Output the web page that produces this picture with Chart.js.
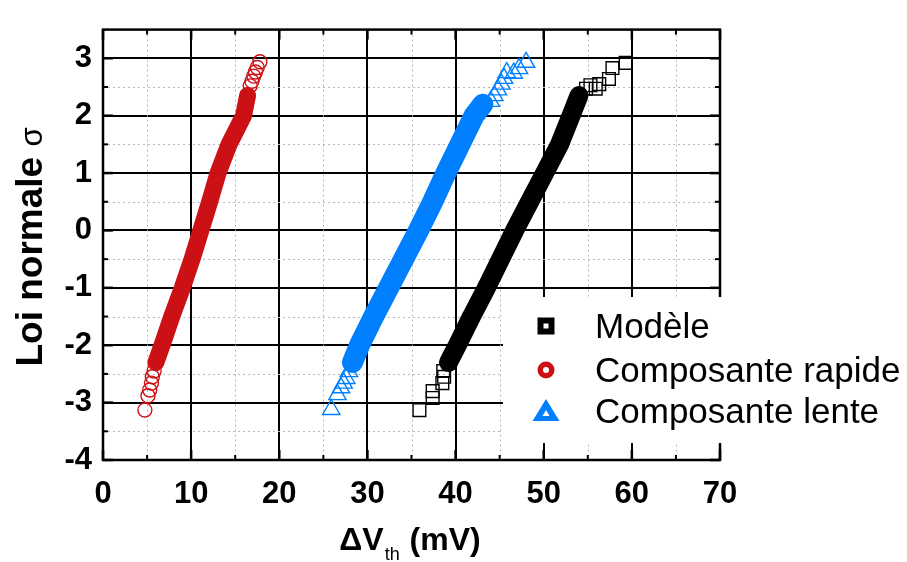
<!DOCTYPE html>
<html>
<head>
<meta charset="utf-8">
<script src="https://cdn.jsdelivr.net/npm/chart.js@4.4.0/dist/chart.umd.min.js"></script>
<style>
  html, body { margin: 0; padding: 0; background: #fff; }
  #wrap { width: 907px; height: 562px; }
</style>
</head>
<body>
<div id="wrap"><canvas id="qqChart" width="907" height="562"></canvas></div>
<script>
// Axis ticks
const xTicks = [0, 10, 20, 30, 40, 50, 60, 70];
const yTicks = [-4, -3, -2, -1, 0, 1, 2, 3];
const xMinor = [5, 15, 25, 35, 45, 55, 65];
const yMinor = [-3.5, -2.5, -1.5, -0.5, 0.5, 1.5, 2.5];

const seriesNames = ["Modèle", "Composante rapide", "Composante lente"];

// Dense middle part of each distribution (deltaVth in mV vs sigma)
const modeleBandX = [39.2, 40.2, 41.8, 43.5, 45.1, 46.7, 48.4, 50.1, 51.8, 53.1, 54.0];
const modeleBandY = [-2.3, -2.0, -1.5, -1.0, -0.5, 0, 0.5, 1.0, 1.5, 2.0, 2.35];
const rapideBandX = [6.0, 6.7, 7.8, 9.0, 10.1, 11.1, 12.1, 13.05, 14.3, 15.95, 16.4];
const rapideBandY = [-2.3, -2.0, -1.5, -1.0, -0.5, 0, 0.5, 1.0, 1.5, 2.0, 2.35];
const lenteBandX = [28.3, 29.1, 30.7, 32.4, 34.1, 35.8, 37.4, 38.9, 40.5, 42.1, 43.1];
const lenteBandY = [-2.3, -2.0, -1.5, -1.0, -0.5, 0, 0.5, 1.0, 1.5, 2.0, 2.2];

// Sparse tails where single markers are visible
const modeleTailX = [35.9, 37.4, 37.4, 38.5, 38.7, 38.6, 54.8, 55.3, 55.9, 56.3, 57.4, 57.8, 59.3];
const modeleTailY = [-3.13, -2.92, -2.8, -2.66, -2.55, -2.45, 2.47, 2.53, 2.47, 2.55, 2.64, 2.83, 2.92];
const rapideTailX = [4.75, 5.1, 5.3, 5.5, 5.6, 5.8, 16.7, 16.9, 17.1, 17.3, 17.5, 17.8];
const rapideTailY = [-3.13, -2.88, -2.78, -2.66, -2.55, -2.45, 2.52, 2.6, 2.69, 2.76, 2.84, 2.94];
const lenteTailX = [25.9, 26.6, 27.0, 27.3, 27.6, 27.9, 44.0, 44.4, 44.8, 45.2, 45.5, 45.8, 46.6, 47.2, 48.0];
const lenteTailY = [-3.12, -2.86, -2.74, -2.66, -2.58, -2.46, 2.25, 2.35, 2.45, 2.55, 2.65, 2.75, 2.74, 2.82, 2.93];

const BLACK = "#000000";
const RED = "#cc1116";
const BLUE = "#0080ff";
const FONT = "'Liberation Sans', Arial, sans-serif";

function pts(xs, ys) {
  return xs.map((x, i) => ({ x: x, y: ys[i] }));
}

function band(xs, ys, color, width) {
  return {
    data: pts(xs, ys),
    showLine: true,
    borderColor: color,
    borderWidth: width,
    borderCapStyle: "round",
    borderJoinStyle: "round",
    pointRadius: 0,
    fill: false
  };
}

function tail(label, xs, ys, color, style, radius) {
  return {
    label: label,
    data: pts(xs, ys),
    showLine: false,
    pointStyle: style,
    pointRadius: radius,
    pointBorderColor: color,
    pointBackgroundColor: "rgba(0,0,0,0)",
    pointBorderWidth: 1.4
  };
}

// Frame, minor grid, ticks, axis titles and the boxed legend
const decorations = {
  id: "decorations",
  beforeDatasetsDraw(chart) {
    const { ctx, chartArea: a, scales: { x, y } } = chart;
    ctx.save();
    ctx.strokeStyle = "#b8b8b8";
    ctx.lineWidth = 1;
    ctx.setLineDash([2, 3]);
    xMinor.forEach((v) => {
      const px = Math.round(x.getPixelForValue(v)) + 0.5;
      ctx.beginPath();
      ctx.moveTo(px, a.top);
      ctx.lineTo(px, a.bottom);
      ctx.stroke();
    });
    yMinor.forEach((v) => {
      const py = Math.round(y.getPixelForValue(v)) + 0.5;
      ctx.beginPath();
      ctx.moveTo(a.left, py);
      ctx.lineTo(a.right, py);
      ctx.stroke();
    });
    ctx.restore();
  },
  afterDatasetsDraw(chart) {
    const { ctx, chartArea: a, scales: { x, y } } = chart;
    ctx.save();
    ctx.strokeStyle = BLACK;
    ctx.lineWidth = 2.5;
    ctx.strokeRect(a.left, a.top, a.right - a.left, a.bottom - a.top);

    function tick(x1, y1, x2, y2) {
      ctx.beginPath();
      ctx.moveTo(x1, y1);
      ctx.lineTo(x2, y2);
      ctx.stroke();
    }
    ctx.lineWidth = 2.5;
    yTicks.forEach((v) => {
      const py = y.getPixelForValue(v);
      tick(a.left, py, a.left + 10, py);
      tick(a.right, py, a.right - 10, py);
    });
    xTicks.forEach((v) => {
      const px = x.getPixelForValue(v);
      tick(px, a.bottom, px, a.bottom - 10);
      tick(px, a.top, px, a.top + 10);
    });
    ctx.lineWidth = 2;
    yMinor.forEach((v) => {
      const py = y.getPixelForValue(v);
      tick(a.left, py, a.left + 5, py);
      tick(a.right, py, a.right - 5, py);
    });
    xMinor.forEach((v) => {
      const px = x.getPixelForValue(v);
      tick(px, a.bottom, px, a.bottom - 5);
      tick(px, a.top, px, a.top + 5);
    });
    ctx.restore();
  },
  afterDraw(chart) {
    const { ctx } = chart;
    ctx.save();

    // legend box sits on top of the plot
    ctx.fillStyle = "#fff";
    ctx.fillRect(503, 297, 404, 146);

    // black square
    ctx.fillStyle = BLACK;
    ctx.fillRect(537.5, 317.5, 17, 17);
    ctx.fillStyle = "#fff";
    ctx.fillRect(543.5, 323.5, 5, 5);
    // red ring
    ctx.fillStyle = RED;
    ctx.beginPath();
    ctx.arc(546, 370, 8.5, 0, Math.PI * 2);
    ctx.fill();
    ctx.fillStyle = "#fff";
    ctx.beginPath();
    ctx.arc(546, 370, 3, 0, Math.PI * 2);
    ctx.fill();
    // blue triangle
    ctx.fillStyle = BLUE;
    ctx.beginPath();
    ctx.moveTo(546, 399);
    ctx.lineTo(559.5, 421);
    ctx.lineTo(532.5, 421);
    ctx.closePath();
    ctx.fill();
    ctx.fillStyle = "#fff";
    ctx.beginPath();
    ctx.moveTo(546, 410);
    ctx.lineTo(549.5, 416);
    ctx.lineTo(542.5, 416);
    ctx.closePath();
    ctx.fill();

    ctx.fillStyle = BLACK;
    ctx.font = "35px " + FONT;
    ctx.textBaseline = "alphabetic";
    ctx.textAlign = "left";
    ctx.fillText(seriesNames[0], 595, 338);
    ctx.fillText(seriesNames[1], 595, 382);
    ctx.fillText(seriesNames[2], 595, 423);

    // x title with subscript
    const big = "bold 32px " + FONT;
    const small = "18px " + FONT;
    ctx.font = big;
    const w1 = ctx.measureText("\u0394V").width;
    const w3 = ctx.measureText(" (mV)").width;
    ctx.font = small;
    const w2 = ctx.measureText("th").width + 2;
    let sx = 410 - (w1 + w2 + w3) / 2;
    ctx.font = big;
    ctx.fillText("\u0394V", sx, 550);
    ctx.font = small;
    ctx.fillText("th", sx + w1 + 1, 560);
    ctx.font = big;
    ctx.fillText(" (mV)", sx + w1 + w2, 550);

    // y title, rotated
    ctx.translate(42, 247);
    ctx.rotate(-Math.PI / 2);
    const yBig = "bold 37px " + FONT;
    const ySig = "31px " + FONT;
    ctx.font = yBig;
    const t1 = ctx.measureText("Loi normale ").width;
    ctx.font = ySig;
    const t2 = ctx.measureText("\u03c3").width;
    let sy = -(t1 + t2) / 2;
    ctx.font = yBig;
    ctx.fillText("Loi normale ", sy, 0);
    ctx.font = ySig;
    ctx.fillText("\u03c3", sy + t1, 0);

    ctx.restore();
  }
};

const qqChart = new Chart(document.getElementById("qqChart"), {
  type: "scatter",
  data: {
    datasets: [
      band(modeleBandX, modeleBandY, BLACK, 19),
      band(rapideBandX, rapideBandY, RED, 17),
      band(lenteBandX, lenteBandY, BLUE, 21),
      tail(seriesNames[0], modeleTailX, modeleTailY, BLACK, "rect", 9),
      tail(seriesNames[1], rapideTailX, rapideTailY, RED, "circle", 7),
      tail(seriesNames[2], lenteTailX, lenteTailY, BLUE, "triangle", 10)
    ]
  },
  options: {
    responsive: false,
    animation: false,
    layout: { padding: { left: 0, top: 10, right: 187, bottom: 0 } },
    plugins: {
      legend: { display: false },
      tooltip: { enabled: false }
    },
    scales: {
      x: {
        type: "linear",
        min: 0,
        max: 70,
        afterBuildTicks: (axis) => {
          axis.ticks = xTicks.map((v) => ({ value: v }));
        },
        afterFit: (axis) => {
          axis.height = 102;
        },
        grid: { color: BLACK, lineWidth: 2, drawTicks: false },
        border: { display: false },
        ticks: {
          color: BLACK,
          font: { family: FONT, size: 31, weight: "bold" },
          padding: 16,
          maxRotation: 0,
          autoSkip: false
        }
      },
      y: {
        type: "linear",
        min: -4,
        max: 3.5,
        afterBuildTicks: (axis) => {
          axis.ticks = yTicks.map((v) => ({ value: v }));
        },
        afterFit: (axis) => {
          axis.width = 103;
        },
        grid: { color: BLACK, lineWidth: 2, drawTicks: false },
        border: { display: false },
        ticks: {
          color: BLACK,
          font: { family: FONT, size: 31, weight: "bold" },
          padding: 11,
          autoSkip: false
        }
      }
    }
  },
  plugins: [decorations]
});
</script>
</body>
</html>
